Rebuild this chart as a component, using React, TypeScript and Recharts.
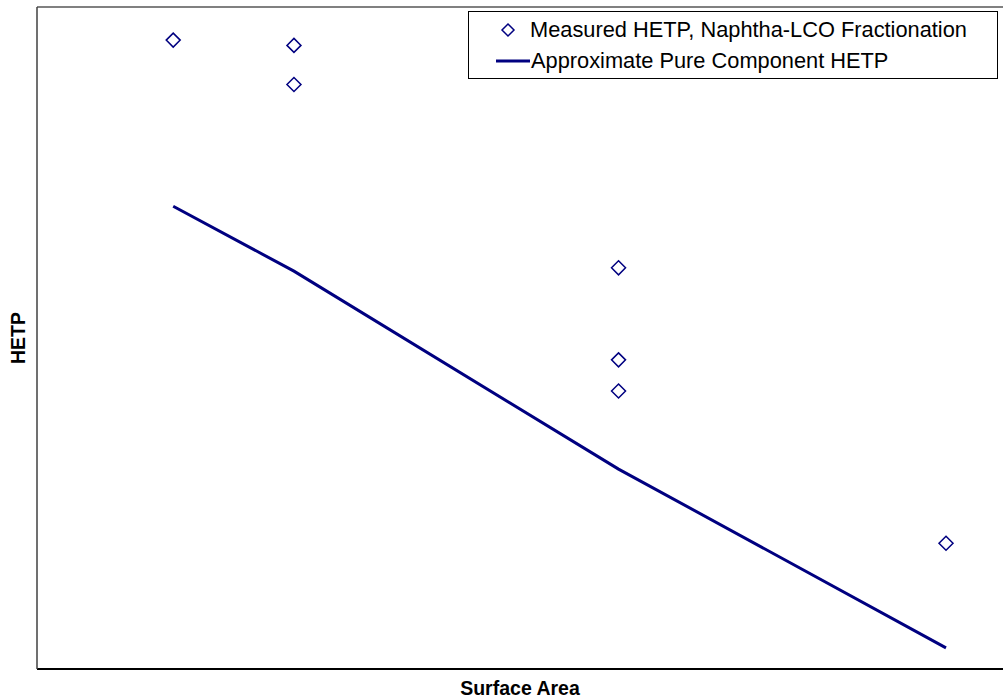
import {
	ComposedChart,
	Scatter,
	XAxis,
	YAxis,
	ReferenceLine,
} from "recharts";

const NAVY = "#000080";

// measured HETP points (surface area, HETP) — relative units
const measuredArea = [141, 266, 266, 602, 602, 602, 941];
const measuredHetp = [95.0, 94.2, 88.3, 60.6, 46.7, 42.0, 19.0];

// approximate pure component HETP curve
const pureArea = [141, 266, 602, 941];
const pureHetp = [69.9, 60.1, 30.2, 3.2];

const legendLabels = [
	"Measured HETP, Naphtha-LCO Fractionation",
	"Approximate Pure Component HETP",
];

const measuredData = measuredArea.map((x, i) => ({ x, y: measuredHetp[i] }));
const pureData = pureArea.map((x, i) => ({ x, y: pureHetp[i] }));

type DiamondProps = {
	cx?: number;
	cy?: number;
};

function renderDiamond({ cx, cy }: DiamondProps): JSX.Element | null {
	if (typeof cx !== "number" || typeof cy !== "number") {
		return null;
	}
	const r = 7;
	return (
		<polygon
			points={`${cx},${cy - r} ${cx + r},${cy} ${cx},${cy + r} ${cx - r},${cy}`}
			fill="#fff"
			stroke={NAVY}
			strokeWidth={1.5}
		/>
	);
}

function renderNoPoint(): JSX.Element {
	return <g />;
}

const legendText: React.CSSProperties = {
	fontFamily: "Arial, 'Liberation Sans', sans-serif",
	fontSize: 21.8,
	lineHeight: "24px",
	color: "#000",
	whiteSpace: "nowrap",
};

function ChartLegend(): JSX.Element {
	return (
		<div
			style={{
				position: "absolute",
				left: 468,
				top: 11,
				boxSizing: "border-box",
				width: 530,
				height: 68,
				border: "1px solid #000",
				background: "#fff",
			}}
		>
			<div style={{ position: "absolute", left: 31, top: 6, display: "flex", alignItems: "center" }}>
				<svg width={16} height={16} style={{ marginRight: 14 }}>
					<polygon points="8,2 14,8 8,14 2,8" fill="#fff" stroke={NAVY} strokeWidth={1.5} />
				</svg>
				<span style={legendText}>{legendLabels[0]}</span>
			</div>
			<div style={{ position: "absolute", left: 27, top: 37, display: "flex", alignItems: "center" }}>
				<svg width={34} height={6} style={{ marginRight: 1 }}>
					<line x1={0} y1={3} x2={34} y2={3} stroke={NAVY} strokeWidth={3} />
				</svg>
				<span style={legendText}>{legendLabels[1]}</span>
			</div>
		</div>
	);
}

export default function App(): JSX.Element {
	return (
		<div style={{ position: "absolute", left: 0, top: 0, width: 1003, height: 700, background: "#fff" }}>
			<ComposedChart
				width={1003}
				height={700}
				margin={{ top: 7, right: 0, bottom: 0, left: 0 }}
				style={{ fontFamily: "Arial, 'Liberation Sans', sans-serif" }}
			>
				<XAxis
					type="number"
					dataKey="x"
					domain={[0, 1000]}
					allowDataOverflow
					tick={false}
					tickLine={false}
					axisLine={{ stroke: "#000", strokeWidth: 2 }}
					height={31}
					label={{
						value: "Surface Area",
						position: "insideBottom",
						offset: 5,
						fill: "#000",
						fontSize: 19.5,
						fontWeight: 700,
					}}
				/>
				<YAxis
					type="number"
					dataKey="y"
					domain={[0, 100]}
					allowDataOverflow
					tick={false}
					tickLine={false}
					axisLine={{ stroke: "#404040", strokeWidth: 1.5 }}
					width={37}
					label={{
						value: "HETP",
						position: "center",
						angle: -90,
						fill: "#000",
						fontSize: 19.5,
						fontWeight: 700,
					}}
				/>
				<ReferenceLine y={100} stroke="#808080" strokeWidth={2} ifOverflow="extendDomain" />
				<Scatter
					data={pureData}
					dataKey="y"
					line={{ stroke: NAVY, strokeWidth: 3 }}
					shape={renderNoPoint}
					isAnimationActive={false}
					legendType="none"
				/>
				<Scatter
					data={measuredData}
					dataKey="y"
					shape={renderDiamond}
					isAnimationActive={false}
					legendType="none"
				/>
			</ComposedChart>
			<ChartLegend />
		</div>
	);
}
